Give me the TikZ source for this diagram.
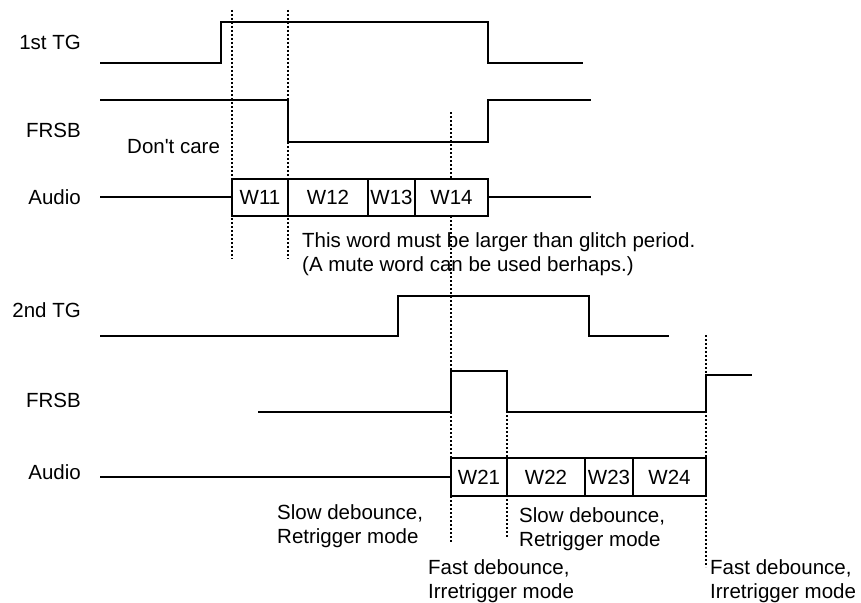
\documentclass[tikz,border=0pt]{standalone}
\usepackage{fontspec}
\setmainfont{Liberation Sans}
\tikzset{
  wave/.style={line width=2pt, line join=miter},
  guide/.style={line width=2.4pt, dash pattern=on 2.2pt off 1.8pt},
  word/.style={draw, line width=2pt, fill=white, inner sep=0pt, outer sep=0pt},
  sig/.style={anchor=east, inner sep=0pt},
  note/.style={anchor=west, align=left, inner sep=0pt}
}
\begin{document}
\begin{tikzpicture}[x=1pt, y=-1pt, font=\fontsize{20.5}{24.5}\selectfont]
        \useasboundingbox (0,0) rectangle (861,602);

        % Signal names
        \node at (81,42) (tgA) [sig] {1st TG};
        \node at (81,130) (frsbA) [sig] {FRSB};
        \node at (81,197) (audioA) [sig] {Audio};
        \node at (81,310) (tgB) [sig] {2nd TG};
        \node at (81,400) (frsbB) [sig] {FRSB};
        \node at (81,472) (audioB) [sig] {Audio};

        % Guide lines (the words are drawn over them)
        \draw[guide] (232,10) -- (232,259);
        \draw[guide] (288,10) -- (288,259);
        \draw[guide] (451,112) -- (451,542);
        \draw[guide] (507,371) -- (507,538);
        \draw[guide] (706,335) -- (706,567);

        % First trigger
        \draw[wave] (100,63) -- (221,63) -- (221,22) -- (488,22) -- (488,63) -- (583,63);
        \draw[wave] (100,100) -- (288,100) -- (288,142) -- (488,142) -- (488,100) -- (591,100);
        \node at (232,197) (w11) [word, anchor=west, minimum width=56pt, minimum height=37pt] {W11};
        \node at (w11.east) (w12) [word, anchor=west, minimum width=80pt, minimum height=37pt] {W12};
        \node at (w12.east) (w13) [word, anchor=west, minimum width=47pt, minimum height=37pt] {W13};
        \node at (w13.east) (w14) [word, anchor=west, minimum width=73pt, minimum height=37pt] {W14};
        \draw[wave] (100,197) -- (w11.west);
        \draw[wave] (w14.east) -- (591,197);

        % Second trigger
        \draw[wave] (100,336) -- (398,336) -- (398,296) -- (589,296) -- (589,336) -- (669,336);
        \draw[wave] (258,412) -- (451,412) -- (451,371) -- (507,371) -- (507,412) -- (706,412) -- (706,375) -- (752,375);
        \node at (451,477) (w21) [word, anchor=west, minimum width=56pt, minimum height=38pt] {W21};
        \node at (w21.east) (w22) [word, anchor=west, minimum width=78pt, minimum height=38pt] {W22};
        \node at (w22.east) (w23) [word, anchor=west, minimum width=48pt, minimum height=38pt] {W23};
        \node at (w23.east) (w24) [word, anchor=west, minimum width=73pt, minimum height=38pt] {W24};
        \draw[wave] (100,477) -- (w21.west);

        % Notes
        \node at (127,147) (dontcare) [note] {Don\textquotesingle t care};
        \node at (302,254) (glitch) [note] {This word must be larger than glitch period.\\(A mute word can be used berhaps.)};
        \node at (277,526) (slowA) [note] {Slow debounce,\\Retrigger mode};
        \node at (519,529) (slowB) [note] {Slow debounce,\\Retrigger mode};
        \node at (428,581) (fastA) [note] {Fast debounce,\\Irretrigger mode};
        \node at (710,581) (fastB) [note] {Fast debounce,\\Irretrigger mode};
    \end{tikzpicture}
\end{document}
